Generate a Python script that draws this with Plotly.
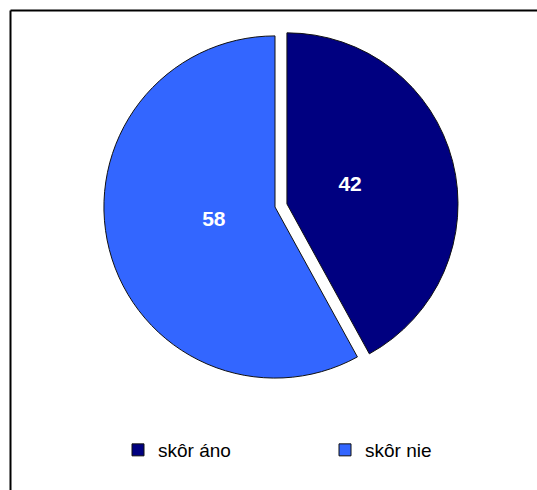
import plotly.graph_objects as go

categories = ["skôr áno", "skôr nie"]
values = [42, 58]
colors = ["#000080", "#3366FF"]
pulls = [0.072, 0]

W, H = 537, 490
cx, cy = 275, 207
R = 183.4        # outer pie box half-size (radius incl. pull room)
R_TXT = 139.4    # smaller, invisible pie used only to place the value labels
FONT = "Liberation Sans, Arial, sans-serif"


def dom(half, x0=cx, y0=cy):
    return dict(x=[(x0 - half) / W, (x0 + half) / W],
                y=[(H - y0 - half) / H, (H - y0 + half) / H])


fig = go.Figure()
fig.add_trace(go.Pie(
    labels=categories,
    values=values,
    sort=False,
    direction="clockwise",
    rotation=0,
    pull=pulls,
    marker=dict(colors=colors, line=dict(color="#111111", width=1)),
    textinfo="none",
    domain=dom(R),
    hoverinfo="skip",
))
fig.add_trace(go.Pie(
    labels=categories,
    values=values,
    sort=False,
    direction="clockwise",
    rotation=0,
    pull=pulls,
    marker=dict(colors=["rgba(0,0,0,0)"] * len(values), line=dict(width=0)),
    textinfo="value",
    textposition="inside",
    insidetextorientation="horizontal",
    textfont=dict(family=FONT, size=21, color="white", weight="bold"),
    domain=dom(R_TXT, cx + 2, cy - 5),
    showlegend=False,
    hoverinfo="skip",
))

fig.update_layout(
    width=W, height=H,
    margin=dict(l=0, r=0, t=0, b=0),
    paper_bgcolor="white",
    plot_bgcolor="white",
    showlegend=True,
    legend=dict(
        orientation="h",
        x=118 / W, xanchor="left",
        y=1 - 431 / H, yanchor="top",
        font=dict(family=FONT, size=19, color="black"),
        entrywidth=162, entrywidthmode="pixels",
        bgcolor="rgba(0,0,0,0)",
    ),
    shapes=[
        dict(type="line", xref="paper", yref="paper",
             x0=10.5 / W, y0=0, x1=10.5 / W, y1=1 - 10.5 / H,
             line=dict(color="black", width=2)),
        dict(type="line", xref="paper", yref="paper",
             x0=10.5 / W, y0=1 - 10.5 / H, x1=1, y1=1 - 10.5 / H,
             line=dict(color="black", width=2)),
    ],
)

fig.write_html(
    "out.html",
    config={"displayModeBar": False},
    post_script="document.body.style.margin='0';document.body.style.overflow='hidden';",
)
